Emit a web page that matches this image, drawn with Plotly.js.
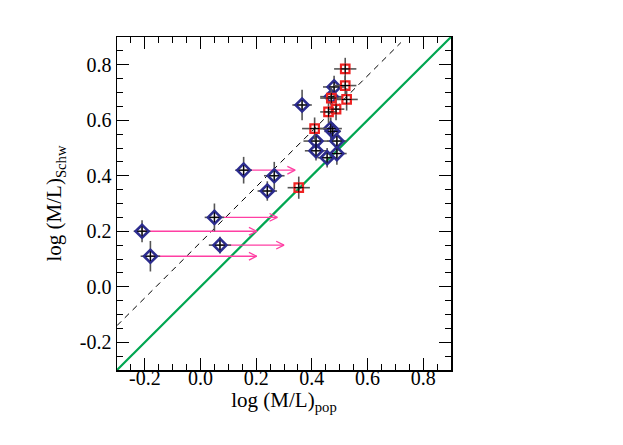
<!DOCTYPE html>
<html><head><meta charset="utf-8">
<script src="https://cdn.plot.ly/plotly-3.0.1.min.js"></script>
<style>body{margin:0;background:#fff}#c{width:623px;height:445px}</style>
</head><body><div id="c"></div>
<script>
// Blue diamonds (galaxies)
const blueX    = [-0.21, -0.18, 0.05, 0.07, 0.155, 0.24, 0.265, 0.365, 0.415, 0.415, 0.455, 0.49, 0.49, 0.468, 0.475, 0.48, 0.47];
const blueY    = [0.20, 0.11, 0.25, 0.15, 0.42, 0.345, 0.40, 0.655, 0.525, 0.49, 0.465, 0.48, 0.525, 0.57, 0.56, 0.72, 0.685];
const blueXerr = [0.03, 0.035, 0.035, 0.04, 0.03, 0.035, 0.037, 0.035, 0.045, 0.04, 0.035, 0.035, 0.035, 0.04, 0.03, 0.04, 0.04];
const blueYerr = [0.04, 0.055, 0.05, 0.03, 0.048, 0.035, 0.05, 0.055, 0.03, 0.035, 0.035, 0.04, 0.03, 0.04, 0.03, 0.04, 0.03];
// Red squares
const redX    = [0.353, 0.41, 0.46, 0.487, 0.47, 0.525, 0.52, 0.52];
const redY    = [0.357, 0.57, 0.63, 0.64, 0.68, 0.675, 0.725, 0.785];
const redXerr = [0.04, 0.045, 0.03, 0.03, 0.04, 0.04, 0.04, 0.04];
const redYerr = [0.04, 0.04, 0.04, 0.04, 0.035, 0.04, 0.035, 0.04];
// Lower-limit arrows
const arrowX0 = [0.155, 0.05, -0.21, 0.07, -0.18];
const arrowX1 = [0.34, 0.276, 0.202, 0.30, 0.202];
const arrowY  = [0.42, 0.25, 0.20, 0.15, 0.11];
// Reference lines
const oneToOne = [-0.3, 0.9];
const dashX = [-0.3, 0.72];
const dashOffset = 0.16;
const tickVals = [-0.2, 0.0, 0.2, 0.4, 0.6, 0.8];
const tickText = ['-0.2', '0.0', '0.2', '0.4', '0.6', '0.8'];

const traces = [];
traces.push({x: oneToOne, y: oneToOne, mode: 'lines', line: {color: '#00a651', width: 2.2}, hoverinfo: 'skip'});
traces.push({x: dashX, y: dashX.map(v => v + dashOffset), mode: 'lines', line: {color: '#000', width: 1, dash: '6px,5px'}, hoverinfo: 'skip'});
// arrows
const ax = [], ay = [];
const hx = 0.028, hy = 0.014;
for (let i = 0; i < arrowX0.length; i++) {
  ax.push(arrowX0[i], arrowX1[i], null, arrowX1[i] - hx, arrowX1[i], arrowX1[i] - hx, null);
  ay.push(arrowY[i], arrowY[i], null, arrowY[i] + hy, arrowY[i], arrowY[i] - hy, null);
}
traces.push({x: ax, y: ay, mode: 'lines', line: {color: '#ff3fa3', width: 1.3}, hoverinfo: 'skip'});

function pts(X, Y, XE, YE, sym, size, col, lw) {
  traces.push({x: X, y: Y, mode: 'markers',
    error_x: {type: 'data', array: XE, color: '#555', thickness: 1.6, width: 0},
    error_y: {type: 'data', array: YE, color: '#555', thickness: 1.6, width: 0},
    marker: {symbol: sym, size: size, color: col, line: {color: col, width: lw}}});
  traces.push({x: X, y: Y, mode: 'markers', marker: {symbol: 'cross-thin-open', size: 7, color: '#000', line: {color: '#000', width: 1}}, hoverinfo: 'skip'});
}
pts(blueX, blueY, blueXerr, blueYerr, 'diamond-open', 10, '#2c2c8e', 2.6);
pts(redX, redY, redXerr, redYerr, 'square-open', 8.5, '#ee2222', 2.2);

const font = {family: '"Liberation Serif", "Times New Roman", serif', size: 20, color: '#000'};
const axisCommon = {
  range: [-0.3, 0.9], tickvals: tickVals, ticktext: tickText,
  ticks: 'inside', ticklen: 12, tickwidth: 1, tickcolor: '#000',
  showline: true, linecolor: '#000', linewidth: 1.5, mirror: 'allticks',
  showgrid: false, zeroline: false, tickfont: font,
  minor: {dtick: 0.05, tick0: 0, ticks: 'inside', ticklen: 6, tickwidth: 1, tickcolor: '#000', showgrid: false}
};
const layout = {
  width: 623, height: 445, showlegend: false,
  paper_bgcolor: '#fff', plot_bgcolor: '#fff',
  margin: {l: 117, r: 172, t: 37, b: 75},
  font: font,
  xaxis: Object.assign({}, axisCommon, {ticklabelstandoff: -11, title: {text: 'log (M/L)<sub>pop</sub>', font: {family: font.family, size: 21, color: '#000'}, standoff: 0}}),
  yaxis: Object.assign({}, axisCommon, {title: {text: 'log (M/L)<sub>Schw</sub>', font: {family: font.family, size: 21, color: '#000'}, standoff: 12}})
};
Plotly.newPlot('c', traces, layout, {staticPlot: true});
</script></body></html>
